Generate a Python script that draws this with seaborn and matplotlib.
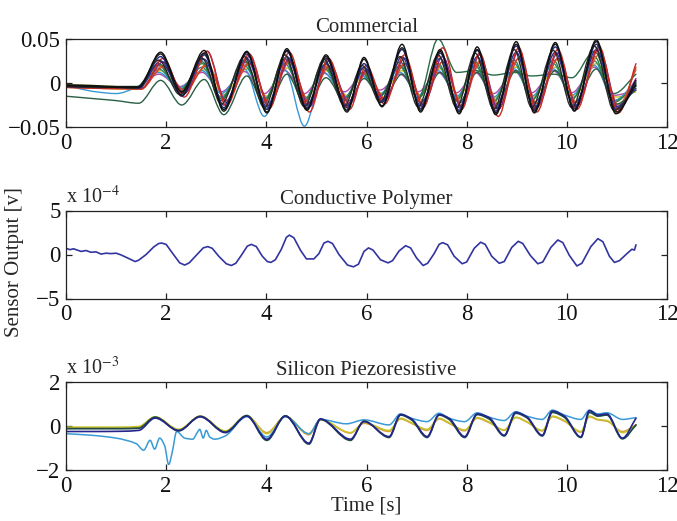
import numpy as np
import pandas as pd
import matplotlib
matplotlib.use("Agg")
import matplotlib.pyplot as plt
from matplotlib.path import Path
from matplotlib.patches import PathPatch
import seaborn as sns

# ---------------- data ----------------
# Commercial sensors: knot times (s) and values (x 1e-3 V)
com_t = [0, 0.6, 1.0, 1.45, 1.89, 2.31, 2.76, 3.15, 3.61, 4.01, 4.41, 4.81, 5.19, 5.61,
         5.95, 6.31, 6.71, 7.08, 7.47, 7.85, 8.21, 8.58, 8.99, 9.35, 9.77, 10.15, 10.59,
         10.98, 11.38]
com_t_late = [0, 0.6, 1.0, 1.5, 1.94, 2.36, 2.82, 3.2, 3.66, 4.06, 4.46, 4.86, 5.24, 5.66,
              6.0, 6.36, 6.76, 7.13, 7.52, 7.9, 8.26, 8.63, 9.04, 9.4, 9.82, 10.2, 10.64,
              11.03, 11.38]
com_t_early = [0, 0.6, 1.0, 1.4, 1.85, 2.27, 2.72, 3.1, 3.56, 3.96, 4.37, 4.76, 5.15, 5.56,
               5.91, 6.27, 6.67, 7.03, 7.43, 7.8, 8.17, 8.54, 8.95, 9.3, 9.73, 10.1, 10.55,
               10.94, 11.38]
com_magenta = [-4, -4, -5, -6, 10, -4, 12, -10, 13, -12, 14, -12, 11, -10, 8, -8, 10, -10, 12, -11,
               12, -12, 14, -11, 14, -11, 18, -14, -8]
com_yellow = [-2, -3, -4, -5, 14, -6, 15, -13, 16, -15, 17, -16, 14, -14, 10, -12, 14, -14, 16, -15,
              17, -16, 18, -15, 18, -15, 22, -16, -10]
com_lightblue = [-3, -10, -12, -5, 12, -5, 14, -12, 16, -38, 15, -49, 12, -16, 8, -12, 12, -14, 14, -15,
                 15, -16, 16, -15, 16, -14, 20, -20, 2]
com_teal = [-4, -5, -6, -6, 16, -7, 18, -16, 20, -18, 22, -18, 17, -17, 11, -14, 18, -17, 19, -18,
            20, -20, 22, -19, 22, -18, 25, -20, -4]
com_green = [-3, -4, -5, -6, 20, -9, 22, -18, 24, -20, 27, -21, 20, -19, 12, -15, 20, -18, 22, -20,
             24, -22, 26, -20, 26, -19, 30, -22, 0]
com_orange = [-5, -6, -7, -7, 20, -11, 22, -20, 24, -22, 26, -23, 20, -22, 14, -17, 22, -20, 24, -22,
              25, -24, 28, -23, 27, -22, 32, -25, 15]
com_darkgreen = [-15, -18, -20, -23, 3, -25, 4, -36, 8, -30, 10, -28, 6, -25, 5, -20, 10, -22, 12, -22,
                 12, -24, 14, -22, 14, -22, 16, -24, -8]
com_green2 = [-3, -4, -5, -5, 22, -10, 24, -20, 26, -22, 28, -22, 24, -20, 16, -15, 24, -18, 50, 12,
              14, 9, 12, 8, 10, 6, 36, -12, 10]
com_redB = [-4, -5, -6, -6, 18, -8, 20, -20, 22, -22, 24, -22, 18, -20, 12, -18, 22, -24, 24, -26,
            23, -30, 28, -28, 28, -26, 38, -30, 18]
com_purple = [-4, -5, -5, -6, 24, -12, 36, -22, 30, -26, 28, -27, 25, -24, 15, -20, 28, -26, 30, -27,
              32, -30, 36, -27, 34, -26, 40, -28, 5]
com_navyB = [-3, -4, -6, -6, 25, -11, 27, -25, 28, -27, 30, -25, 22, -26, 18, -20, 30, -26, 28, -28,
             30, -29, 35, -28, 35, -27, 38, -27, -6]
com_redA = [-5, -6, -6, -7, 28, -16, 36, -26, 33, -29, 35, -33, 28, -30, 20, -24, 32, -28, 40, -30,
            34, -38, 40, -33, 38, -30, 42, -34, 22]
com_navyA = [-4, -5, -5, -6, 30, -15, 32, -28, 33, -30, 36, -28, 28, -28, 22, -22, 38, -29, 34, -31,
             37, -32, 42, -30, 41, -29, 44, -30, 0]
com_blackC = [-4, -5, -5, -6, 26, -13, 28, -24, 30, -28, 32, -27, 27, -26, 20, -22, 30, -27, 32, -28,
              34, -30, 38, -28, 37, -28, 42, -31, -3]
com_blackB = [-2, -3, -4, -4, 33, -14, 34, -32, 35, -34, 37, -31, 30, -33, 27, -27, 40, -31, 36, -33,
              38, -34, 44, -32, 44, -31, 47, -35, 3]
com_blackA = [-3, -4, -5, -5, 35, -10, 37, -30, 36, -33, 39, -30, 32, -31, 29, -26, 44, -33, 38, -35,
              41, -36, 47, -34, 46, -32, 49, -33, -2]

# Conductive polymer: knot times (s) and values (x 1e-4 V)
cp_t = [0, 0.08, 0.15, 0.3, 0.4, 0.5, 0.6, 0.7, 0.8, 0.9, 1.0, 1.1, 1.25, 1.38, 1.45, 1.6,
        1.75, 1.85, 1.91, 2.0, 2.12, 2.27, 2.37, 2.46, 2.6, 2.74, 2.83, 2.92, 3.05, 3.2, 3.3,
        3.39, 3.5, 3.62, 3.7, 3.8, 3.92, 4.02, 4.09, 4.18, 4.3, 4.4, 4.46, 4.55, 4.68, 4.8,
        4.95, 5.05, 5.15, 5.23, 5.32, 5.45, 5.62, 5.74, 5.84, 5.95, 6.04, 6.13, 6.28, 6.43,
        6.52, 6.65, 6.78, 6.88, 7.0, 7.13, 7.22, 7.35, 7.45, 7.52, 7.62, 7.75, 7.91, 8.0,
        8.15, 8.28, 8.37, 8.5, 8.65, 8.75, 8.9, 9.03, 9.12, 9.27, 9.42, 9.52, 9.68, 9.82,
        9.92, 10.05, 10.2, 10.3, 10.48, 10.62, 10.72, 10.85, 10.95, 11.05, 11.2, 11.3, 11.35,
        11.38]
cp_v = [0.7, 0.55, 0.65, 0.35, 0.45, 0.25, 0.3, 0.05, 0.15, 0.1, 0.15, -0.05, -0.45, -0.8,
        -0.65, 0.0, 0.85, 1.25, 1.3, 1.15, 0.2, -0.95, -1.2, -0.95, -0.1, 0.75, 0.9, 0.7, -0.2,
        -1.05, -1.25, -1.0, -0.1, 0.95, 1.15, 0.9, -0.2, -0.8, -0.9, -0.6, 0.6, 1.95, 2.2, 1.9,
        0.5, -0.5, -0.5, 0.1, 1.3, 1.5, 1.25, 0.0, -1.2, -1.4, -1.1, 0.35, 0.75, 0.5, -0.6,
        -0.95, -0.7, 0.4, 1.0, 0.75, -0.4, -1.25, -1.0, 0.1, 1.15, 1.35, 1.1, -0.2, -1.05, -0.85,
        0.7, 1.4, 1.15, -0.2, -1.0, -0.8, 0.8, 1.5, 1.25, -0.1, -1.05, -0.85, 0.8, 1.65, 1.35,
        -0.1, -1.3, -1.0, 0.9, 1.8, 1.45, -0.2, -0.9, -0.7, 0.1, 0.6, 0.5, 1.1]

# Silicon piezoresistive: knot times (s) and values (x 1e-3 V)
si_t = [0, 0.6, 1.1, 1.45, 1.78, 2.25, 2.68, 3.18, 3.61, 4.01, 4.38, 4.85, 5.08, 5.68, 5.95,
        6.45, 6.68, 6.9, 7.21, 7.45, 7.65, 7.96, 8.21, 8.45, 8.75, 8.98, 9.2, 9.51, 9.71, 9.95,
        10.28, 10.45, 10.62, 10.8, 11.11, 11.38]
si_yellow = [-0.05, -0.05, -0.05, -0.02, 0.42, -0.15, 0.45, -0.22, 0.48, -0.35, 0.45, -0.35, 0.3,
             -0.3, 0.15, -0.2, 0.35, 0.15, -0.15, 0.35, 0.15, -0.18, 0.38, 0.18, -0.2, 0.4, 0.2,
             -0.2, 0.45, 0.25, -0.25, 0.45, 0.3, 0.25, -0.3, 0.0]
si_orange = [-0.08, -0.08, -0.08, -0.05, 0.4, -0.18, 0.42, -0.24, 0.45, -0.3, 0.42, -0.4, 0.28,
             -0.32, 0.12, -0.25, 0.32, 0.12, -0.2, 0.32, 0.12, -0.22, 0.35, 0.15, -0.18, 0.38,
             0.18, -0.22, 0.42, 0.22, -0.28, 0.42, 0.28, 0.22, -0.25, 0.05]
si_navy = [-0.25, -0.25, -0.24, -0.2, 0.36, -0.2, 0.42, -0.3, 0.45, -0.6, 0.45, -0.78, 0.32, -0.6,
           0.2, -0.48, 0.52, 0.32, -0.48, 0.52, 0.35, -0.48, 0.55, 0.38, -0.42, 0.62, 0.42, -0.42,
           0.68, 0.45, -0.5, 0.7, 0.5, 0.55, -0.55, 0.35]
si_dark = [-0.12, -0.12, -0.12, -0.1, 0.4, -0.22, 0.44, -0.28, 0.47, -0.65, 0.46, -0.82, 0.3, -0.65,
           0.22, -0.52, 0.5, 0.28, -0.52, 0.5, 0.3, -0.52, 0.52, 0.32, -0.45, 0.58, 0.38, -0.45,
           0.62, 0.4, -0.52, 0.62, 0.45, 0.5, -0.58, 0.05]
si_lb_t = [0, 0.5, 1.0, 1.4, 1.55, 1.68, 1.77, 1.87, 1.97, 2.05, 2.12, 2.21, 2.37, 2.53, 2.62, 2.67,
           2.74, 2.8, 2.87, 2.97, 3.18, 3.61, 4.01, 4.38, 4.85, 5.08, 5.6, 5.95, 6.45, 6.68, 6.9,
           7.21, 7.45, 7.65, 7.96, 8.21, 8.45, 8.75, 8.98, 9.2, 9.51, 9.71, 9.95, 10.28, 10.45,
           10.62, 10.8, 11.11, 11.38]
si_lightblue = [-0.35, -0.42, -0.55, -0.8, -1.1, -0.65, -1.05, -0.55, -0.9, -1.75, -1.2, -0.25,
                -0.55, -0.6, -0.3, -0.15, -0.55, -0.2, -0.5, -0.6, -0.45, 0.42, -0.5, 0.42, -0.35,
                0.3, 0.1, 0.28, 0.05, 0.55, 0.35, 0.2, 0.58, 0.35, 0.2, 0.6, 0.4, 0.25, 0.65, 0.45,
                0.3, 0.72, 0.5, 0.3, 0.72, 0.55, 0.6, 0.3, 0.38]

x_ticks = [0, 2, 4, 6, 8, 10, 12]
titles = ["Commercial", "Conductive Polymer", "Silicon Piezoresistive"]

# ---------------- style ----------------
sns.set_theme(style="ticks")
plt.rcParams["font.family"] = ["Liberation Serif", "DejaVu Serif"]
plt.rcParams["mathtext.fontset"] = "stix"
plt.rcParams["axes.linewidth"] = 0.9
FS = 15
TFS = 16.5


def smooth_line(ax, t, v, color, lw=1.0, zorder=2):
    """Draw a smooth curve through the knots (cubic Hermite rendered as Bezier)."""
    t = np.asarray(t, float)
    v = np.asarray(v, float)
    n = len(t)
    m = np.zeros(n)
    for i in range(n):
        if i == 0:
            m[i] = (v[1] - v[0]) / (t[1] - t[0])
        elif i == n - 1:
            m[i] = (v[-1] - v[-2]) / (t[-1] - t[-2])
        else:
            d0 = (v[i] - v[i - 1]) / (t[i] - t[i - 1])
            d1 = (v[i + 1] - v[i]) / (t[i + 1] - t[i])
            if d0 * d1 <= 0:
                m[i] = 0.0
            else:
                m[i] = 2.0 / (1.0 / d0 + 1.0 / d1)
    verts = [(t[0], v[0])]
    codes = [Path.MOVETO]
    for i in range(n - 1):
        h = t[i + 1] - t[i]
        verts += [(t[i] + h / 3, v[i] + m[i] * h / 3),
                  (t[i + 1] - h / 3, v[i + 1] - m[i + 1] * h / 3),
                  (t[i + 1], v[i + 1])]
        codes += [Path.CURVE4] * 3
    ax.add_patch(PathPatch(Path(verts, codes), fill=False, edgecolor=color,
                           lw=lw, zorder=zorder, joinstyle="round", capstyle="round"))


fig = plt.figure(figsize=(6.77, 5.21), dpi=100)
L, W, H = 66 / 677, 601 / 677, 88 / 521
ax1 = fig.add_axes([L, 1 - 127 / 521, W, H])
ax2 = fig.add_axes([L, 1 - 298.5 / 521, W, H])
ax3 = fig.add_axes([L, 1 - 470 / 521, W, H])

# ---- Commercial ----
com_series = [
    (com_t_early, com_magenta, "#b04ab0"), (com_t, com_yellow, "#c8c02c"),
    (com_t_early, com_lightblue, "#3a98d4"), (com_t_early, com_teal, "#2a8a8a"),
    (com_t_early, com_green, "#2f7f3a"), (com_t_late, com_orange, "#d2682c"),
    (com_t, com_darkgreen, "#2b5e45"), (com_t_early, com_green2, "#2a6a44"),
    (com_t_late, com_redB, "#d4402e"), (com_t_late, com_purple, "#85287f"),
    (com_t, com_navyB, "#2a2f8c"), (com_t_late, com_redA, "#cc2a22"),
    (com_t, com_navyA, "#1f2a80"), (com_t_early, com_blackC, "#2a2a2a"),
    (com_t, com_blackB, "#161616"), (com_t, com_blackA, "#101010"),
]
for times, vals, col in com_series:
    smooth_line(ax1, times, np.asarray(vals) / 1000.0, col, lw=1.0)
ax1.set_ylim(-0.05, 0.05)
ax1.set_yticks([-0.05, 0, 0.05])
ax1.set_yticklabels(["\u22120.05", "0", "0.05"])

# ---- Conductive polymer ----
cp_df = pd.DataFrame({"t": cp_t, "v": cp_v})
sns.lineplot(data=cp_df, x="t", y="v", ax=ax2, color="#3234a0", lw=1.2, sort=False)
ax2.set_ylim(-5, 5)
ax2.set_yticks([-5, 0, 5])
ax2.set_yticklabels(["\u22125", "0", "5"])

# ---- Silicon piezoresistive ----
smooth_line(ax3, si_t, si_orange, "#d89a3a", lw=1.1)
smooth_line(ax3, si_t, si_yellow, "#c9c42a", lw=1.1)
smooth_line(ax3, si_lb_t, si_lightblue, "#3a9ad6", lw=1.1)
smooth_line(ax3, si_t, si_dark, "#1d4c46", lw=1.3)
smooth_line(ax3, si_t, si_navy, "#23258c", lw=1.2)
ax3.set_ylim(-2, 2)
ax3.set_yticks([-2, 0, 2])
ax3.set_yticklabels(["\u22122", "0", "2"])

for ax, title in zip([ax1, ax2, ax3], titles):
    ax.set_xlim(0, 12)
    ax.set_xticks(x_ticks)
    ax.set_xticklabels([str(x) for x in x_ticks])
    ax.set_title(title, fontsize=FS, pad=5)
    ax.set_xlabel("")
    ax.set_ylabel("")
    ax.tick_params(direction="in", top=True, right=True, length=4, width=0.9,
                   labelsize=TFS, pad=4, colors="#222222", labelcolor="#111111")
    for s in ax.spines.values():
        s.set_visible(True)
        s.set_color("#222222")
    ax.set_facecolor("white")

ax2.text(0.0, 1.03, "x 10$^{-4}$", transform=ax2.transAxes, ha="left", va="bottom",
         fontsize=FS - 0.5)
ax3.text(0.0, 1.03, "x 10$^{-3}$", transform=ax3.transAxes, ha="left", va="bottom",
         fontsize=FS - 0.5)
ax3.set_xlabel("Time [s]", fontsize=FS, labelpad=0)
fig.text(15 / 677, 1 - 262 / 521, "Sensor Output [v]", rotation=90, ha="center",
         va="center", fontsize=FS)

fig.savefig("out.png", dpi=100, facecolor="white")
